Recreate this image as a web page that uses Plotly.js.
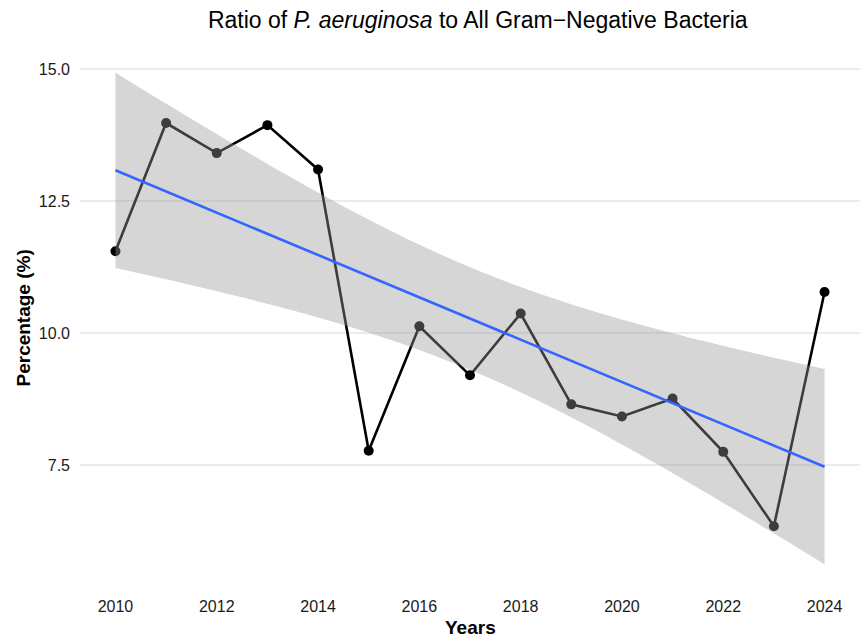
<!DOCTYPE html>
<html>
<head>
<meta charset="utf-8">
<script src="https://cdn.plot.ly/plotly-3.0.1.min.js"></script>
<style>
  html, body { margin: 0; padding: 0; background: #ffffff; }
  #chart { width: 861px; height: 639px; }
</style>
</head>
<body>
<div id="chart"></div>
<script>
// Yearly share of P. aeruginosa among all Gram-negative isolates (%)
const years = [2010, 2011, 2012, 2013, 2014, 2015, 2016, 2017, 2018, 2019, 2020, 2021, 2022, 2023, 2024];
const percentages = [11.55, 13.98, 13.41, 13.94, 13.10, 7.77, 10.13, 9.20, 10.37, 8.65, 8.42, 8.76, 7.75, 6.34, 10.78];
const xTickVals = [2010, 2012, 2014, 2016, 2018, 2020, 2022, 2024];
const yTickVals = [7.5, 10.0, 12.5, 15.0];

// Ordinary least squares fit with a 95% confidence band for the mean
const n = years.length;
const xMean = years.reduce((a, b) => a + b, 0) / n;
const yMean = percentages.reduce((a, b) => a + b, 0) / n;
let sxx = 0, sxy = 0;
for (let i = 0; i < n; i++) {
  sxx += (years[i] - xMean) ** 2;
  sxy += (years[i] - xMean) * (percentages[i] - yMean);
}
const slope = sxy / sxx;
const intercept = yMean - slope * xMean;
let sse = 0;
for (let i = 0; i < n; i++) {
  const r = percentages[i] - (intercept + slope * years[i]);
  sse += r * r;
}
const sigma = Math.sqrt(sse / (n - 2));
const T_CRIT = 2.160369; // Student t, 0.975 quantile, 13 degrees of freedom

const gridN = 80;
const xMin = Math.min(...years), xMax = Math.max(...years);
const fitX = [], fitY = [], upper = [], lower = [];
for (let k = 0; k < gridN; k++) {
  const x = xMin + (xMax - xMin) * k / (gridN - 1);
  const yhat = intercept + slope * x;
  const se = sigma * Math.sqrt(1 / n + (x - xMean) ** 2 / sxx);
  fitX.push(x);
  fitY.push(yhat);
  upper.push(yhat + T_CRIT * se);
  lower.push(yhat - T_CRIT * se);
}
const bandX = fitX.concat(fitX.slice().reverse());
const bandY = upper.concat(lower.slice().reverse());

// Axis limits with 5% padding on each side
const allY = percentages.concat(upper, lower);
const yLo = Math.min(...allY), yHi = Math.max(...allY);
const yPad = (yHi - yLo) * 0.05;
const xPad = (xMax - xMin) * 0.05;

const traces = [
  {
    x: years, y: percentages, type: 'scatter', mode: 'lines+markers',
    line: { color: '#000000', width: 2.6 },
    marker: { color: '#000000', size: 10 },
    hoverinfo: 'x+y', showlegend: false
  },
  {
    x: bandX, y: bandY, type: 'scatter', mode: 'none',
    fill: 'toself', fillcolor: 'rgba(153,153,153,0.4)',
    hoverinfo: 'skip', showlegend: false
  },
  {
    x: fitX, y: fitY, type: 'scatter', mode: 'lines',
    line: { color: '#3366FF', width: 2.6 },
    hoverinfo: 'skip', showlegend: false
  }
];

const font = 'Liberation Sans, Arial, Helvetica, sans-serif';

const layout = {
  width: 861, height: 639,
  paper_bgcolor: '#ffffff', plot_bgcolor: '#ffffff',
  margin: { l: 80, r: 1, t: 48, b: 50 },
  font: { family: font, color: '#1a1a1a' },
  title: {
    text: 'Ratio of <i>P. aeruginosa</i> to All Gram\u2212Negative Bacteria',
    font: { family: font, size: 23, color: '#000000' },
    x: 0.51, xanchor: 'center', xref: 'paper',
    y: 1 - 20 / 639, yanchor: 'middle', yref: 'container'
  },
  xaxis: {
    range: [xMin - xPad, xMax + xPad],
    tickvals: xTickVals, ticktext: xTickVals.map(String),
    showgrid: false, zeroline: false, showline: false,
    ticks: '', ticklabelstandoff: 6,
    tickfont: { family: font, size: 16, color: '#1a1a1a' },
    automargin: false
  },
  yaxis: {
    range: [yLo - yPad, yHi + yPad],
    tickvals: yTickVals, ticktext: yTickVals.map(v => v.toFixed(1)),
    showgrid: true, gridcolor: '#EBEBEB', gridwidth: 1.6,
    zeroline: false, showline: false,
    ticks: '', ticklabelstandoff: 9,
    tickfont: { family: font, size: 16, color: '#1a1a1a' },
    automargin: false
  },
  annotations: [
    {
      text: '<b>Years</b>', xref: 'paper', yref: 'paper',
      x: 0.5, y: -0.071, xanchor: 'center', yanchor: 'middle',
      showarrow: false,
      font: { family: font, size: 19, color: '#000000' }
    },
    {
      text: '<b>Percentage (%)</b>', xref: 'paper', yref: 'paper',
      x: 0, xshift: -57, y: 0.5, xanchor: 'center', yanchor: 'middle',
      textangle: -90, showarrow: false,
      font: { family: font, size: 19, color: '#000000' }
    }
  ]
};

Plotly.newPlot('chart', traces, layout, { displayModeBar: false, staticPlot: true });
</script>
</body>
</html>
